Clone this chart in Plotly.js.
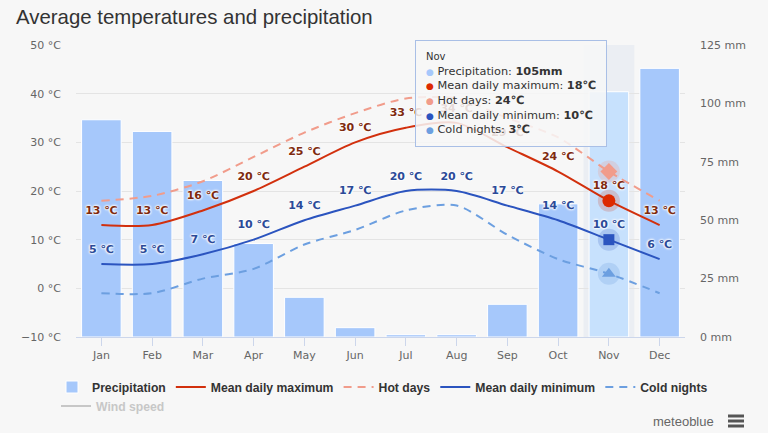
<!DOCTYPE html>
<html>
<head>
<meta charset="utf-8">
<script src="https://cdn.plot.ly/plotly-3.0.1.min.js"></script>
<style>
  html, body { margin: 0; padding: 0; background: #f7f7f7; }
  #chart { width: 768px; height: 433px; }
</style>
</head>
<body>
<div id="chart"></div>
<script>
// ---- data ----
const months = ['Jan','Feb','Mar','Apr','May','Jun','Jul','Aug','Sep','Oct','Nov','Dec'];
const precipitation = [93, 88, 67, 40, 17, 4, 1, 1, 14, 57, 105, 115];   // mm
const meanMax = [13, 13, 16, 20, 25, 30, 33, 34, 29, 24, 18, 13];          // °C
const hotDays = [18, 19, 22, 27, 32, 36, 39, 39, 35, 31, 24, 18];          // °C
const meanMin = [5, 5, 7, 10, 14, 17, 20, 20, 17, 14, 10, 6];              // °C
const coldNights = [-1, -1, 2, 4, 9, 12, 16, 17, 11, 6, 3, -1];            // °C
const windSpeed = [];                                                       // hidden series
const hoverIndex = 10; // Nov highlighted

// ---- geometry helpers (plot area in px) ----
const L = 76, T = 45, W = 609, H = 292;
const px2x = p => (p - L) / W;
const py2y = p => (T + H - p) / H;

const C = {
  bar: '#a6c8fb', barHover: '#c7e1fd',
  max: '#d2300d', maxText: '#7e2a0f',
  hot: '#f19c8b',
  min: '#2b54bf', minText: '#2b4a98',
  cold: '#6c9fe0'
};
const shadow = '0px 0px 2px #fff, 0px 0px 2px #fff, 0px 0px 3px #fff, 0px 0px 3px #fff';
const lbl = v => v + ' ℃';
const ghost = { size: 12, color: 'rgba(0,0,0,0)', line: { width: 0 } };

const traces = [
  {
    type: 'bar', name: 'Precipitation', x: months, y: precipitation, yaxis: 'y',
    marker: { color: months.map((m, i) => i === hoverIndex ? C.barHover : C.bar),
              line: { color: '#ffffff', width: 1 } },
    hoverinfo: 'skip'
  },
  {
    type: 'scatter', mode: 'lines+markers+text', name: 'Mean daily maximum', x: months, y: meanMax, yaxis: 'y2',
    line: { color: C.max, width: 2, shape: 'spline', smoothing: 0.8 }, marker: ghost,
    text: meanMax.map(lbl), textposition: 'top center',
    textfont: { family: 'DejaVu Sans', size: 11, color: C.maxText, weight: 'bold', shadow: shadow },
    hoverinfo: 'skip'
  },
  {
    type: 'scatter', mode: 'lines', name: 'Hot days', x: months, y: hotDays, yaxis: 'y2',
    line: { color: C.hot, width: 2, dash: '8px,6px', shape: 'spline', smoothing: 0.8 },
    hoverinfo: 'skip'
  },
  {
    type: 'scatter', mode: 'lines+markers+text', name: 'Mean daily minimum', x: months, y: meanMin, yaxis: 'y2',
    line: { color: C.min, width: 2, shape: 'spline', smoothing: 0.8 }, marker: ghost,
    text: meanMin.map(lbl), textposition: 'top center',
    textfont: { family: 'DejaVu Sans', size: 11, color: C.minText, weight: 'bold', shadow: shadow },
    hoverinfo: 'skip'
  },
  {
    type: 'scatter', mode: 'lines', name: 'Cold nights', x: months, y: coldNights, yaxis: 'y2',
    line: { color: C.cold, width: 2, dash: '8px,6px', shape: 'spline', smoothing: 0.8 },
    hoverinfo: 'skip'
  },
  {
    type: 'scatter', mode: 'lines', name: 'Wind speed', x: windSpeed.length ? months : [null],
    y: windSpeed.length ? windSpeed : [null], yaxis: 'y2', visible: 'legendonly', legend: 'legend2',
    line: { color: '#999999', width: 2 }, hoverinfo: 'skip'
  }
];

// hover highlight markers (Nov)
const hx = [months[hoverIndex]];
function halo(y, color) {
  return { type: 'scatter', mode: 'markers', x: hx, y: [y], yaxis: 'y2', showlegend: false, hoverinfo: 'skip',
           marker: { size: 22, color: color, line: { width: 0 } } };
}
function dot(y, color, symbol, size) {
  return { type: 'scatter', mode: 'markers', x: hx, y: [y], yaxis: 'y2', showlegend: false, hoverinfo: 'skip',
           marker: { size: size, color: color, symbol: symbol, line: { width: 0 } } };
}
traces.push(halo(hotDays[hoverIndex], 'rgba(241,156,139,0.25)'));
traces.push(dot(hotDays[hoverIndex], C.hot, 'diamond', 13));
traces.push(halo(meanMax[hoverIndex], 'rgba(210,48,13,0.2)'));
traces.push(dot(meanMax[hoverIndex], '#dd2a00', 'circle', 13));
traces.push(halo(meanMin[hoverIndex], 'rgba(43,84,191,0.2)'));
traces.push(dot(meanMin[hoverIndex], C.min, 'square', 11));
traces.push(halo(coldNights[hoverIndex], 'rgba(108,159,224,0.25)'));
traces.push(dot(coldNights[hoverIndex], C.cold, 'triangle-up', 12));

const bullet = c => '<span style="color:' + c + ';font-size:9px">●</span> ';
const tipText =
  '<span style="font-size:10px">' + months[hoverIndex] + '</span><br>' +
  bullet(C.bar) + 'Precipitation: <b>' + precipitation[hoverIndex] + 'mm</b><br>' +
  bullet('#dd2a00') + 'Mean daily maximum: <b>' + meanMax[hoverIndex] + '℃</b><br>' +
  bullet(C.hot) + 'Hot days: <b>' + hotDays[hoverIndex] + '℃</b><br>' +
  bullet(C.min) + 'Mean daily minimum: <b>' + meanMin[hoverIndex] + '℃</b><br>' +
  bullet(C.cold) + 'Cold nights: <b>' + coldNights[hoverIndex] + '℃</b>';

const burger = [414.5, 419.5, 424.5].map(y0 => ({
  type: 'rect', xref: 'paper', yref: 'paper', layer: 'above',
  x0: px2x(728), x1: px2x(744), y0: py2y(y0 + 3), y1: py2y(y0),
  fillcolor: '#555555', line: { width: 0 }
}));

const legendFont = { family: 'Liberation Sans Narrow, Liberation Sans, sans-serif', size: 12.2, color: '#333333', weight: 'bold' };

const layout = {
  width: 768, height: 433,
  paper_bgcolor: '#f7f7f7', plot_bgcolor: '#f7f7f7',
  margin: { l: L, r: 768 - L - W, t: T, b: 433 - T - H },
  font: { family: 'DejaVu Sans', size: 11, color: '#666666' },
  title: {
    text: 'Average temperatures and precipitation',
    font: { family: 'Liberation Sans, Arial, sans-serif', size: 20.4, color: '#333333' },
    xref: 'container', yref: 'container', x: 16 / 768, xanchor: 'left', y: 1 - 17 / 433, yanchor: 'middle'
  },
  bargap: 0.22,
  showlegend: true,
  xaxis: {
    type: 'category', range: [-0.5, 11.5], fixedrange: true,
    showline: true, linecolor: '#ccd6eb', linewidth: 1,
    ticks: 'outside', ticklen: 8, tickcolor: '#ccd6eb', tickwidth: 1,
    tickfont: { family: 'DejaVu Sans', size: 11, color: '#666666' },
    showgrid: false
  },
  yaxis: {
    range: [0, 125], dtick: 25, side: 'right', showgrid: false, zeroline: false,
    ticksuffix: ' mm', ticklabelstandoff: 14,
    tickfont: { family: 'DejaVu Sans', size: 11, color: '#666666' }
  },
  yaxis2: {
    range: [-10, 50], dtick: 10, side: 'left', overlaying: 'y', showgrid: true, gridcolor: '#e4e4e4',
    zeroline: false, ticksuffix: ' °C', ticklabelstandoff: 14,
    tickfont: { family: 'DejaVu Sans', size: 11, color: '#666666' }
  },
  legend: {
    orientation: 'h', x: px2x(52), xanchor: 'left', y: py2y(387), yanchor: 'middle',
    bgcolor: 'rgba(0,0,0,0)', font: legendFont, itemwidth: 30, tracegroupgap: 0
  },
  legend2: {
    orientation: 'h', x: px2x(56), xanchor: 'left', y: py2y(406), yanchor: 'middle',
    bgcolor: 'rgba(0,0,0,0)',
    font: Object.assign({}, legendFont, { color: '#999999' }),
    itemwidth: 30
  },
  shapes: [
    { type: 'rect', xref: 'x', yref: 'paper', layer: 'below',
      x0: hoverIndex - 0.5, x1: hoverIndex + 0.5, y0: 0, y1: 1,
      fillcolor: 'rgba(204,214,235,0.28)', line: { width: 0 } }
  ].concat(burger),
  annotations: [
    {
      xref: 'paper', yref: 'paper', x: px2x(415), y: py2y(40), xanchor: 'left', yanchor: 'top',
      text: tipText, align: 'left', showarrow: false,
      width: 170,
      font: { family: 'DejaVu Sans', size: 11.3, color: '#333333' },
      bgcolor: 'rgba(247,247,247,0.86)', bordercolor: '#a9bfe6', borderwidth: 1, borderpad: 10
    },
    {
      xref: 'paper', yref: 'paper', x: px2x(716), y: py2y(421), xanchor: 'right', yanchor: 'middle',
      text: 'meteoblue', showarrow: false,
      font: { family: 'Liberation Sans Narrow, Liberation Sans, sans-serif', size: 13, color: '#666666' }
    }
  ]
};

Plotly.newPlot('chart', traces, layout, { displayModeBar: false, staticPlot: true });
</script>
</body>
</html>
